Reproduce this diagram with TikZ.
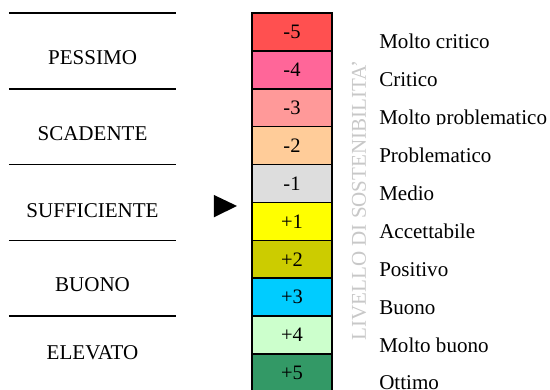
\documentclass[tikz,border=0pt]{standalone}
\usepackage{fontspec}
\setmainfont{Liberation Serif}
\definecolor{cmfive}{HTML}{FF5050}
\definecolor{cmfour}{HTML}{FF6699}
\definecolor{cmthree}{HTML}{FF9999}
\definecolor{cmtwo}{HTML}{FFCC99}
\definecolor{cmone}{HTML}{DDDDDD}
\definecolor{cpone}{HTML}{FFFF00}
\definecolor{cptwo}{HTML}{CCCC00}
\definecolor{cpthree}{HTML}{00CCFF}
\definecolor{cpfour}{HTML}{CCFFCC}
\definecolor{cpfive}{HTML}{339966}
\definecolor{axisgray}{HTML}{C8C8C8}
\begin{document}
\begin{tikzpicture}[scale=1,
  level/.style={draw,line width=1.2pt,minimum width=2.111cm,minimum height=1cm,inner sep=0pt,
    font=\fontsize{15.4}{18}\selectfont},
  rating/.style={font=\fontsize{15.8}{19}\selectfont},
  judg/.style={anchor=base west,inner sep=0pt,fill=white,text height=0.99cm,text depth=0.2cm,
    font=\fontsize{15.8}{19}\selectfont}]
  \useasboundingbox (0,0) rectangle (14.512,10.290);
  % Separators of the ratings
  \draw[line width=1.2pt] (0.237,9.947) -- (4.644,9.947);
  \draw[line width=1.2pt] (0.237,7.947) -- (4.644,7.947);
  \draw[line width=1.2pt] (0.237,5.947) -- (4.644,5.947);
  \draw[line width=1.2pt] (0.237,3.947) -- (4.644,3.947);
  \draw[line width=1.2pt] (0.237,1.947) -- (4.644,1.947);
  % Ratings
  \node[rating] (pessimo) at (2.441,8.760) {PESSIMO};
  \node[rating] (scadente) at (2.441,6.754) {SCADENTE};
  \node[rating] (sufficiente) at (2.441,4.736) {SUFFICIENTE};
  \node[rating] (buono) at (2.441,2.783) {BUONO};
  \node[rating] (elevato) at (2.441,0.976) {ELEVATO};
  % Pointer
  \fill (5.646,5.145) -- (6.253,4.855) -- (5.646,4.557) -- cycle;
  % Scale of levels
  \node[level,fill=cmfive] (m5) at (7.704,9.447) {-5};
  \node[level,fill=cmfour] (m4) at (7.704,8.447) {-4};
  \node[level,fill=cmthree] (m3) at (7.704,7.447) {-3};
  \node[level,fill=cmtwo] (m2) at (7.704,6.447) {-2};
  \node[level,fill=cmone] (m1) at (7.704,5.447) {-1};
  \node[level,fill=cpone] (p1) at (7.704,4.447) {+1};
  \node[level,fill=cptwo] (p2) at (7.704,3.447) {+2};
  \node[level,fill=cpthree] (p3) at (7.704,2.447) {+3};
  \node[level,fill=cpfour] (p4) at (7.704,1.447) {+4};
  \node[level,fill=cpfive] (p5) at (7.704,0.447) {+5};
  % Axis title
  \node[rotate=90,text=axisgray,font=\fontsize{15.8}{19}\selectfont] (axis) at (9.472,5.0) {LIVELLO DI SOSTENIBILITA'};
  % Judgements
  \node[judg] (j1) at (10,9) {Molto critico};
  \node[judg] (j2) at (10,8) {Critico};
  \node[judg] (j3) at (10,7) {Molto problematico};
  \node[judg] (j4) at (10,6) {Problematico};
  \node[judg] (j5) at (10,5) {Medio};
  \node[judg] (j6) at (10,4) {Accettabile};
  \node[judg] (j7) at (10,3) {Positivo};
  \node[judg] (j8) at (10,2) {Buono};
  \node[judg] (j9) at (10,1) {Molto buono};
  \node[judg] (j10) at (10,0) {Ottimo};
\end{tikzpicture}
\end{document}
